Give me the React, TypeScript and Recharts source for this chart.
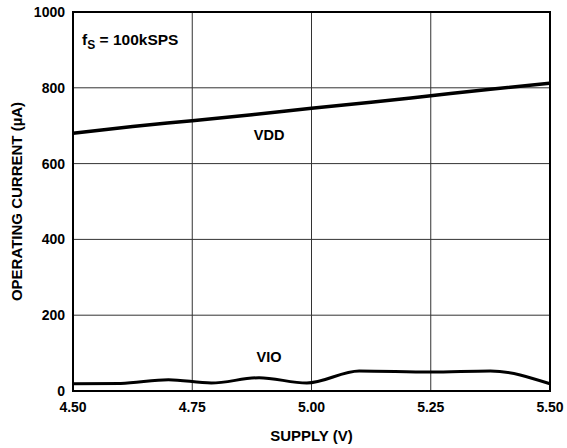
import React from 'react';
import {
  LineChart, Line, XAxis, YAxis, CartesianGrid, ReferenceArea, ReferenceDot,
} from 'recharts';

// supply voltage (V) vs operating current (uA)
const vddSupply = [4.5, 4.625, 4.75, 4.875, 5.0, 5.125, 5.25, 5.375, 5.5];
const vddCurrent = [680, 698, 713, 729, 746, 762, 779, 796, 812];

const vioSupply = [4.5, 4.6, 4.7, 4.79, 4.89, 4.99, 5.1, 5.25, 5.375, 5.5];
const vioCurrent = [19, 20, 30, 21, 35, 21, 53, 50, 53, 19];

const xTicks = [4.5, 4.75, 5.0, 5.25, 5.5];
const yTicks = [0, 200, 400, 600, 800, 1000];

const vddData = vddSupply.map((x, i) => ({ x, y: vddCurrent[i] }));
const vioData = vioSupply.map((x, i) => ({ x, y: vioCurrent[i] }));

const font = '"Liberation Sans", Arial, Helvetica, sans-serif';
const tickStyle = { fontSize: 14, fontWeight: 700, fill: '#000', fontFamily: font };
const titleStyle = { ...tickStyle, fontSize: 15 };

function TextLabel({ viewBox, text }: any) {
  return (
    <text x={viewBox.x} y={viewBox.y} textAnchor="middle" dominantBaseline="central"
      style={{ ...tickStyle, fontSize: 14.5 }}>{text}</text>
  );
}

function FsLabel({ viewBox }: any) {
  return (
    <text x={viewBox.x} y={viewBox.y} style={{ ...tickStyle, fontSize: 15.5 }}>
      f<tspan fontSize={12} dy={4}>S</tspan><tspan dy={-4}> = 100kSPS</tspan>
    </text>
  );
}

export default function App() {
  return (
    <div style={{ position: 'absolute', left: 0, top: 0 }}>
      <LineChart width={567} height={448} margin={{ top: 12, right: 17, bottom: 7, left: 13 }}>
        <CartesianGrid stroke="#333" strokeWidth={1} horizontalValues={yTicks} verticalValues={xTicks} />
        <XAxis
          dataKey="x" type="number" domain={[4.5, 5.5]} ticks={xTicks}
          tickFormatter={(v) => v.toFixed(2)} tick={tickStyle}
          tickLine={false} axisLine={false} height={50} tickMargin={5}
          allowDuplicatedCategory={false}
          label={{ value: 'SUPPLY (V)', position: 'insideBottom', offset: 0, style: titleStyle }}
        />
        <YAxis
          dataKey="y" type="number" domain={[0, 1000]} ticks={yTicks}
          tick={tickStyle} tickLine={false} axisLine={false} width={60}
          label={{
            value: 'OPERATING CURRENT (µA)', angle: -90, position: 'insideLeft', offset: 4,
            style: { ...titleStyle, textAnchor: 'middle' },
          }}
        />
        <ReferenceArea x1={4.5} x2={5.5} y1={0} y2={1000} fill="none" stroke="#000" strokeWidth={2} ifOverflow="visible" />
        <Line data={vddData} dataKey="y" type="monotone" stroke="#000" strokeWidth={3.5} dot={false} isAnimationActive={false} />
        <Line data={vioData} dataKey="y" type="monotone" stroke="#000" strokeWidth={3} dot={false} isAnimationActive={false} />
        <ReferenceDot x={4.911} y={676} r={0} label={<TextLabel text="VDD" />} />
        <ReferenceDot x={4.911} y={89} r={0} label={<TextLabel text="VIO" />} />
        <ReferenceDot x={4.519} y={914} r={0} label={<FsLabel />} />
      </LineChart>
    </div>
  );
}
